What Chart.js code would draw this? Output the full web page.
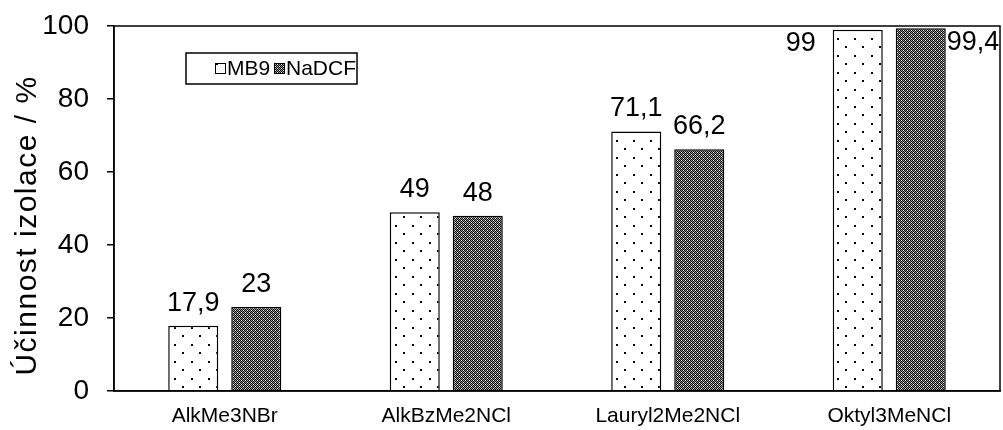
<!DOCTYPE html>
<html>
<head>
<meta charset="utf-8">
<script src="https://cdn.jsdelivr.net/npm/chart.js@4.4.1/dist/chart.umd.min.js"></script>
<style>
  html, body { margin: 0; padding: 0; background: #fff; }
  #wrap { width: 1003px; height: 430px; }
</style>
</head>
<body>
<div id="wrap"><canvas id="c" width="1003" height="430"></canvas></div>
<script>
// Categories and measured isolation efficiency (%) for the two samples
const categories = ['AlkMe3NBr', 'AlkBzMe2NCl', 'Lauryl2Me2NCl', 'Oktyl3MeNCl'];
const seriesNames = ['MB9', 'NaDCF'];
const mb9Values = [17.9, 49, 71.1, 99];
const nadcfValues = [23, 48, 66.2, 99.4];
const yTicks = [0, 20, 40, 60, 80, 100];
const yTitle = 'Účinnost izolace / %';

const FONT = '"Liberation Sans", Arial, sans-serif';

// Sparse staggered dots on white
function dotPattern() {
  const t = document.createElement('canvas');
  t.width = 17; t.height = 17;
  const g = t.getContext('2d');
  g.fillStyle = '#fff'; g.fillRect(0, 0, 17, 17);
  g.fillStyle = '#000';
  g.fillRect(4, 4, 2, 2);
  g.fillRect(12, 12, 2, 2);
  return g.createPattern(t, 'repeat');
}
// Fine dark checkerboard
function checkPattern() {
  const t = document.createElement('canvas');
  t.width = 4; t.height = 4;
  const g = t.getContext('2d');
  g.fillStyle = '#9a9a9a'; g.fillRect(0, 0, 4, 4);
  g.fillStyle = '#000';
  g.fillRect(0, 0, 1, 1); g.fillRect(2, 0, 1, 1);
  g.fillRect(1, 1, 1, 1); g.fillRect(3, 1, 1, 1);
  g.fillRect(0, 2, 1, 1); g.fillRect(2, 2, 1, 1);
  g.fillRect(1, 3, 1, 1); g.fillRect(3, 3, 1, 1);
  g.fillStyle = '#fff';
  g.fillRect(1, 0, 1, 1); g.fillRect(3, 2, 1, 1);
  return g.createPattern(t, 'repeat');
}

const fills = [dotPattern(), checkPattern()];

const fmt = v => String(v).replace('.', ',');

// Frame around the plot area, plus the rotated value-axis title
const frame = {
  id: 'frame',
  afterDraw(chart) {
    const { ctx, chartArea: a } = chart;
    ctx.save();
    ctx.strokeStyle = '#000';
    ctx.lineWidth = 1.5;
    ctx.strokeRect(a.left, a.top, a.right - a.left, a.bottom - a.top);
    ctx.restore();

    ctx.save();
    ctx.translate(28, (a.top + a.bottom) / 2 + 17);
    ctx.rotate(-Math.PI / 2);
    ctx.font = '30px ' + FONT;
    if ('letterSpacing' in ctx) ctx.letterSpacing = '1.5px';
    ctx.fillStyle = '#000';
    ctx.textAlign = 'center';
    ctx.textBaseline = 'middle';
    ctx.fillText(yTitle, 0, 0);
    ctx.restore();
  }
};

// Value labels above bars; beside the bar when there is no room above
const valueLabels = {
  id: 'valueLabels',
  afterDatasetsDraw(chart) {
    const { ctx, chartArea: a } = chart;
    ctx.save();
    ctx.font = '27px ' + FONT;
    ctx.fillStyle = '#000';
    chart.data.datasets.forEach((ds, di) => {
      chart.getDatasetMeta(di).data.forEach((bar, i) => {
        const txt = fmt(ds.data[i]);
        const half = bar.width / 2;
        if (bar.y - 40 < a.top) {
          ctx.textBaseline = 'middle';
          if (di === 0) {
            ctx.textAlign = 'right';
            ctx.fillText(txt, bar.x - half - 17, bar.y + 14);
          } else {
            ctx.textAlign = 'left';
            ctx.fillText(txt, bar.x + half + 1, bar.y + 14);
          }
        } else {
          ctx.textAlign = 'center';
          ctx.textBaseline = 'alphabetic';
          ctx.fillText(txt, bar.x, bar.y - 15);
        }
      });
    });
    ctx.restore();
  }
};

// Boxed legend inside the plot area
const boxLegend = {
  id: 'boxLegend',
  afterDraw(chart) {
    const { ctx } = chart;
    ctx.save();
    ctx.strokeStyle = '#000';
    ctx.lineWidth = 1.5;
    ctx.fillStyle = '#fff';
    ctx.fillRect(186, 53, 171, 31);
    ctx.strokeRect(186, 53, 171, 31);
    ctx.font = '21px ' + FONT;
    ctx.textBaseline = 'middle';
    ctx.textAlign = 'left';
    const items = [{ x: 215, name: seriesNames[0] }, { x: 274, name: seriesNames[1] }];
    items.forEach((it, k) => {
      ctx.fillStyle = fills[k];
      ctx.fillRect(it.x, 63, 11, 11);
      ctx.lineWidth = 1;
      ctx.strokeRect(it.x + 0.5, 63.5, 10, 10);
      ctx.fillStyle = '#000';
      ctx.fillText(it.name, it.x + 12, 69.5);
    });
    ctx.restore();
  }
};

new Chart(document.getElementById('c'), {
  type: 'bar',
  data: {
    labels: categories,
    datasets: [
      { label: seriesNames[0], data: mb9Values, backgroundColor: fills[0], borderColor: '#000', borderWidth: 1.5 },
      { label: seriesNames[1], data: nadcfValues, backgroundColor: fills[1], borderColor: '#000', borderWidth: 1.5 }
    ]
  },
  options: {
    responsive: false,
    animation: false,
    devicePixelRatio: 1,
    layout: { padding: { top: 26, right: 3, left: 0, bottom: 0 } },
    datasets: { bar: { categoryPercentage: 0.569, barPercentage: 0.794 } },
    plugins: { legend: { display: false }, tooltip: { enabled: false } },
    scales: {
      x: {
        grid: { display: false },
        border: { color: '#000', width: 1.5 },
        ticks: { color: '#000', font: { family: FONT, size: 21 }, padding: 5 },
        afterFit(s) { s.height = 39; }
      },
      y: {
        min: 0, max: 100,
        afterBuildTicks(s) { s.ticks = yTicks.map(v => ({ value: v })); },
        grid: { drawOnChartArea: false, color: '#000', tickLength: 7, lineWidth: 1.5 },
        border: { color: '#000', width: 1.5 },
        ticks: { color: '#000', font: { family: FONT, size: 28 }, padding: 18 },
        afterFit(s) { s.width = 114; s.paddingTop = 0; s.paddingBottom = 0; }
      }
    }
  },
  plugins: [frame, valueLabels, boxLegend]
});
</script>
</body>
</html>
